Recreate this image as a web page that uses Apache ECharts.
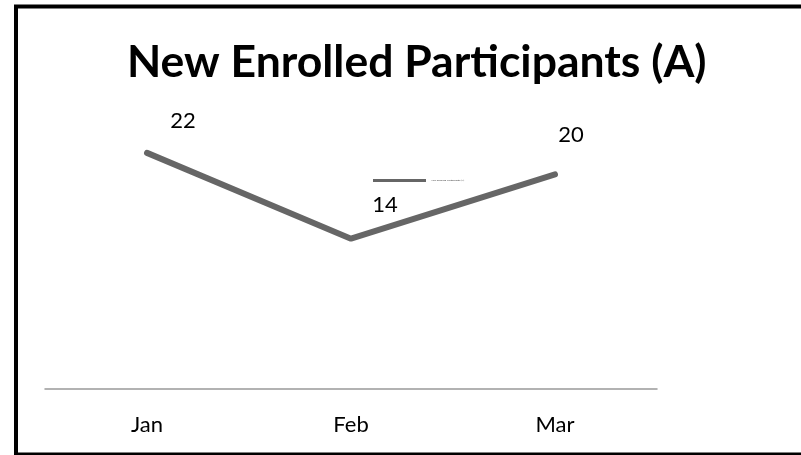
<!DOCTYPE html>
<html>
<head>
<meta charset="utf-8">
<script src="https://cdn.jsdelivr.net/npm/echarts@6/dist/echarts.min.js"></script>
<style>
html,body{margin:0;padding:0;background:#fff;}
#chart{width:801px;height:455px;}
</style>
</head>
<body>
<div id="chart"></div>
<script>
var titleText = "New Enrolled Participants (A)";
var seriesName = "New Enrolled Participants (A)";
var categories = ["Jan", "Feb", "Mar"];
var values = [22, 14, 20];

var labelOffsets = [[36, -16], [34, -18], [16, -23]];

var chart = echarts.init(document.getElementById('chart'), null, {renderer: 'canvas'});
var FONT = 'Lato';
var option = {
  backgroundColor: '#ffffff',
  animation: false,
  title: {
    text: titleText,
    left: 122,
    top: 35,
    textStyle: {fontFamily: FONT, fontWeight: 'bold', fontSize: 44.5, color: '#000'}
  },
  legend: {
    left: 368, top: 174,
    itemWidth: 53, itemHeight: 3, itemGap: 3,
    icon: 'rect',
    itemStyle: {color: '#666666', opacity: 1},
    textStyle: {fontFamily: FONT, fontSize: 2.6, color: '#444', padding: [0,0,0,0]},
    data: [seriesName]
  },
  grid: {left: 45, right: 144, top: 67, bottom: 66},
  xAxis: {
    type: 'category',
    data: categories,
    boundaryGap: true,
    axisLine: {lineStyle: {color: '#999', width: 1.5}},
    axisTick: {show: false},
    axisLabel: {fontFamily: FONT, fontSize: 22, color: '#000', margin: 25}
  },
  yAxis: {
    type: 'value', min: 0, max: 30, interval: 10,
    show: false, splitLine: {show: false}
  },
  graphic: [{
    type: 'rect',
    shape: {x: 16, y: 6.5, width: 800, height: 448},
    style: {fill: 'none', stroke: '#000', lineWidth: 4},
    silent: true
  }],
  series: [{
    name: seriesName,
    type: 'line',
    data: values.map(function (v, i) {
      return {value: v, label: {offset: labelOffsets[i]}};
    }),
    symbol: 'circle',
    symbolSize: 0.01,
    showSymbol: true,
    lineStyle: {color: '#666666', width: 6, cap: 'round'},
    itemStyle: {color: 'rgba(0,0,0,0)'},
    label: {
      show: true, position: 'top', distance: 5,
      fontFamily: FONT, fontSize: 22, color: '#000'
    }
  }]
};
chart.setOption(option);
</script>
</body>
</html>
